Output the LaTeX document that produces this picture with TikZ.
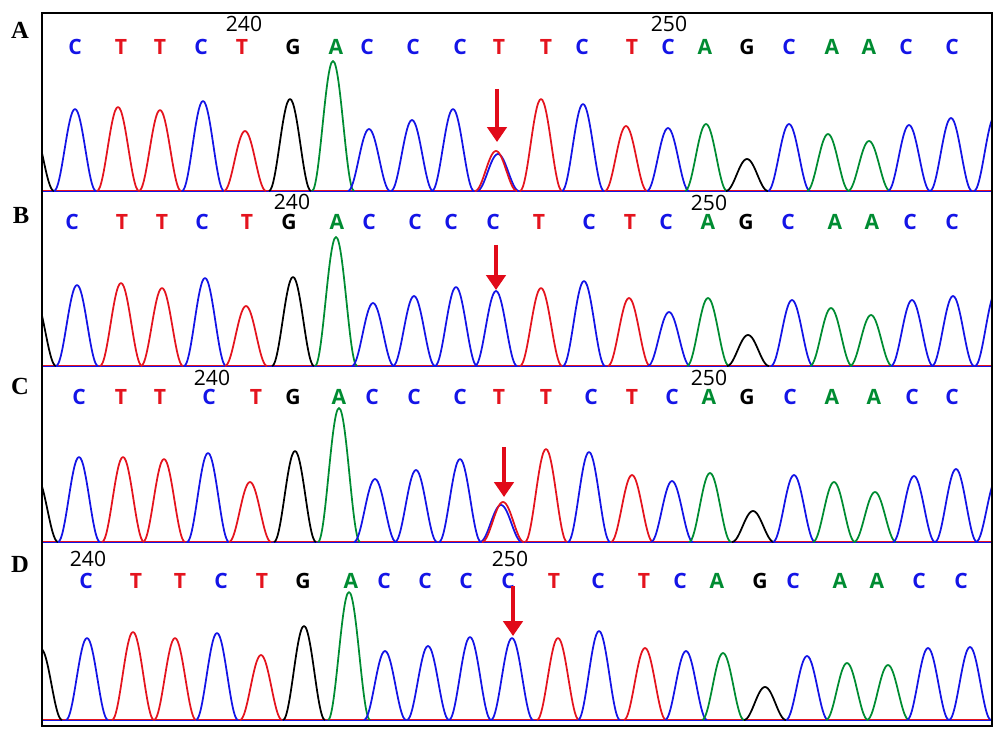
\documentclass[tikz,border=0pt]{standalone}
\usepackage{fontspec}
\setsansfont{Open Sans}
\newfontfamily\callfont{Open Sans}
\newfontfamily\panelfont{Liberation Serif}
\usepackage{tikz}
\usetikzlibrary{arrows.meta}

% one colour per base
\definecolor{colC}{RGB}{20,20,230}
\definecolor{colT}{RGB}{228,20,30}
\definecolor{colA}{RGB}{0,140,50}
\definecolor{colG}{RGB}{0,0,0}
\definecolor{arrowred}{RGB}{225,10,25}

\tikzset{
  peakline/.style={line width=1pt, line join=round},
  basecall/.style={font=\callfont\bfseries\fontsize{12}{12}\selectfont, text=col#1, inner sep=0pt},
  posnum/.style={font=\sffamily\fontsize{12}{12}\selectfont, inner sep=0pt},
  panellabel/.style={font=\panelfont\bfseries\fontsize{14}{14}\selectfont, inner sep=0pt},
  mutarrow/.style={arrowred, line width=2pt, -{Triangle[width=11pt,length=8.5pt]}},
}

% one peak of a trace: base, centre, top, baseline
\newcommand{\chrompeak}[4]{%
  \draw[col#1, peakline] plot[variable=\t, domain=-21:21, samples=31, smooth]
    ({#2+\t}, {#4-(#4-#3)*(cos(\t*90/21))^2});
}

\begin{document}
\begin{tikzpicture}[x=0.02cm, y=-0.02cm]
  \useasboundingbox (0,0) rectangle (1000,736);

  % Panel labels
  \node[panellabel] (labA) at (20,30) {A};
  \node[panellabel] (labB) at (21,215) {B};
  \node[panellabel] (labC) at (20,386) {C};
  \node[panellabel] (labD) at (20,564) {D};

  % Position numbers
  \node[posnum] (numA240) at (244,24) {240};
  \node[posnum] (numA250) at (669,24) {250};
  \node[posnum] (numB240) at (292,202) {240};
  \node[posnum] (numB250) at (709,203) {250};
  \node[posnum] (numC240) at (212,378) {240};
  \node[posnum] (numC250) at (709,378) {250};
  \node[posnum] (numD240) at (88,559) {240};
  \node[posnum] (numD250) at (510,559) {250};

  % Base calls
  \foreach \l/\lx [count=\i] in {C/75,T/121,T/160,C/201,T/242,G/293,A/336,C/367,C/413,C/460,T/499,
      T/546,C/582,T/632,C/668,A/705,G/747,C/789,A/832,A/869,C/906,C/952}
    \node[basecall=\l] (A-\i) at (\lx,47) {\l};
  \foreach \l/\lx [count=\i] in {C/72,T/122,T/162,C/202,T/247,G/289,A/337,C/369,C/415,C/451,C/493,
      T/539,C/589,T/630,C/666,A/708,G/746,C/788,A/835,A/872,C/910,C/952}
    \node[basecall=\l] (B-\i) at (\lx,222) {\l};
  \foreach \l/\lx [count=\i] in {C/79,T/121,T/160,C/209,T/256,G/293,A/339,C/372,C/414,C/460,T/499,
      T/546,C/591,T/632,C/672,A/709,G/747,C/790,A/832,A/874,C/912,C/952}
    \node[basecall=\l] (C-\i) at (\lx,397) {\l};
  \foreach \l/\lx [count=\i] in {C/86,T/136,T/180,C/221,T/262,G/303,A/351,C/384,C/425,C/466,C/508,
      T/554,C/598,T/644,C/680,A/717,G/760,C/793,A/840,A/877,C/919,C/961}
    \node[basecall=\l] (D-\i) at (\lx,581) {\l};

  % Traces
  \begin{scope}
    \clip (42,13) rectangle (992,726);
    \foreach \yb in {191,366,542,720} {
      \draw[colC, line width=0.4pt] (42,\yb) -- (992,\yb);
      \draw[colT, line width=0.4pt] (42,\yb-0.7) -- (992,\yb-0.7);
    }
    \foreach \b/\px/\pt in {G/33/129,C/75/109,T/118/107,T/160/110,C/203/101,T/245/131,G/290/99,
        A/333/61,C/369/129,C/412/120,C/453/109,C/498/154,T/496/151,T/541/99,C/583/104,T/626/126,
        C/668/128,A/706/124,G/747/159,C/789/124,A/828/134,A/869/141,C/909/125,C/951/118,C/995/116}
      \chrompeak{\b}{\px}{\pt}{191};
    \foreach \b/\px/\pt in {G/35/299,C/77/285,T/121/283,T/162/288,C/205/278,T/246/306,G/293/277,
        A/336/237,C/373/303,C/414/296,C/456/287,C/496/291,T/541/288,C/584/281,T/629/298,
        C/669/312,A/708/298,G/748/335,C/792/300,A/831/308,A/871/315,C/912/300,C/953/296,C/996/292}
      \chrompeak{\b}{\px}{\pt}{366};
    \foreach \b/\px/\pt in {G/37/478,C/79/457,T/123/457,T/164/459,C/208/453,T/250/482,G/295/451,
        A/339/408,C/375/479,C/416/470,C/460/459,C/501/505,T/503/502,T/546/449,C/589/452,T/632/475,
        C/672/481,A/710/473,G/753/511,C/794/475,A/834/482,A/875/492,C/914/476,C/956/469,C/997/478}
      \chrompeak{\b}{\px}{\pt}{542};
    \foreach \b/\px/\pt in {G/41/649,C/87/638,T/133/632,T/175/638,C/217/633,T/261/655,G/304/626,
        A/349/592,C/385/651,C/428/646,C/470/637,C/512/638,T/558/638,C/599/631,T/645/648,
        C/686/651,A/723/653,G/765/687,C/807/656,A/847/663,A/888/665,C/928/648,C/970/647}
      \chrompeak{\b}{\px}{\pt}{720};
  \end{scope}

  % Frame
  \draw[line width=1.1pt] (42,13) rectangle (992,726);

  % Arrows at the variant
  \coordinate (arrA) at (497,89);  \coordinate (tipA) at (497,142);
  \coordinate (arrB) at (496,245); \coordinate (tipB) at (496,290);
  \coordinate (arrC) at (504,447); \coordinate (tipC) at (504,497);
  \coordinate (arrD) at (513,586); \coordinate (tipD) at (513,636);
  \draw[mutarrow] (arrA) -- (tipA);
  \draw[mutarrow] (arrB) -- (tipB);
  \draw[mutarrow] (arrC) -- (tipC);
  \draw[mutarrow] (arrD) -- (tipD);
\end{tikzpicture}
\end{document}
